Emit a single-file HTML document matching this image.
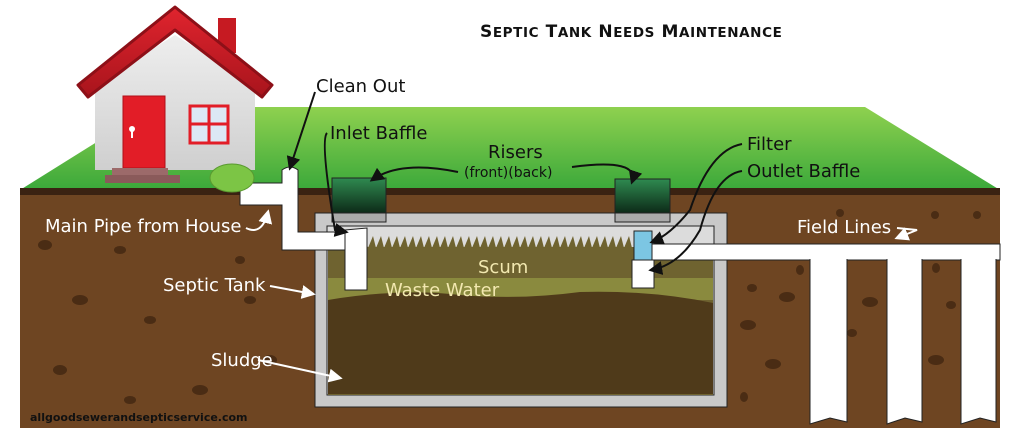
<!DOCTYPE html>
<html><head><style>
html,body{margin:0;padding:0;background:#fff;width:1024px;height:439px;overflow:hidden}
svg{display:block}
text{font-family:"DejaVu Sans","Liberation Sans",sans-serif}
</style></head><body>
<svg width="1024" height="439" viewBox="0 0 1024 439" xmlns="http://www.w3.org/2000/svg">
<defs>
<linearGradient id="g" x1="0" y1="0" x2="0" y2="1"><stop offset="0" stop-color="#8fd14f"/><stop offset="1" stop-color="#3aa83a"/></linearGradient>
<linearGradient id="r" x1="0" y1="0" x2="0" y2="1"><stop offset="0" stop-color="#2f8a50"/><stop offset="1" stop-color="#0d2a18"/></linearGradient>
<linearGradient id="roof" x1="0" y1="0" x2="0" y2="1"><stop offset="0" stop-color="#e0242e"/><stop offset="1" stop-color="#a8141c"/></linearGradient>
<linearGradient id="wall" x1="0" y1="0" x2="0" y2="1"><stop offset="0" stop-color="#eeeeee"/><stop offset="1" stop-color="#cfcfcf"/></linearGradient>
<pattern id="teeth" x="328" y="236" width="8" height="12" patternUnits="userSpaceOnUse"><polygon points="0,12 5,0 8,12" fill="#6f6330"/></pattern>
<marker id="a" viewBox="0 0 10 10" refX="8" refY="5" markerWidth="7" markerHeight="7" orient="auto"><path d="M0,0 L10,5 L0,10 z" fill="#111"/></marker>
<marker id="w" viewBox="0 0 10 10" refX="8" refY="5" markerWidth="7" markerHeight="7" orient="auto"><path d="M0,0 L10,5 L0,10 z" fill="#fff"/></marker>
</defs>
<!-- grass -->
<polygon points="20,190 100,140 160,107 865,107 1000,190" fill="url(#g)"/>
<!-- soil -->
<rect x="20" y="188" width="980" height="240" fill="#6e4522"/>
<rect x="20" y="188" width="980" height="7" fill="#3a2212"/>
<g fill="#4a2c14">
<ellipse cx="45" cy="245" rx="7" ry="5"/><ellipse cx="120" cy="250" rx="6" ry="4"/><ellipse cx="80" cy="300" rx="8" ry="5"/><ellipse cx="150" cy="320" rx="6" ry="4"/><ellipse cx="60" cy="370" rx="7" ry="5"/><ellipse cx="200" cy="390" rx="8" ry="5"/><ellipse cx="250" cy="300" rx="6" ry="4"/><ellipse cx="270" cy="360" rx="7" ry="5"/><ellipse cx="130" cy="400" rx="6" ry="4"/><ellipse cx="240" cy="260" rx="5" ry="4"/>
<ellipse cx="752" cy="288" rx="5" ry="4"/><ellipse cx="787" cy="297" rx="8" ry="5"/><ellipse cx="748" cy="325" rx="8" ry="5"/><ellipse cx="773" cy="364" rx="8" ry="5"/><ellipse cx="744" cy="397" rx="4" ry="5"/><ellipse cx="800" cy="270" rx="4" ry="5"/><ellipse cx="870" cy="302" rx="8" ry="5"/><ellipse cx="852" cy="333" rx="5" ry="4"/><ellipse cx="936" cy="268" rx="4" ry="5"/><ellipse cx="951" cy="305" rx="5" ry="4"/><ellipse cx="936" cy="360" rx="8" ry="5"/><ellipse cx="840" cy="213" rx="4" ry="4"/><ellipse cx="935" cy="215" rx="4" ry="4"/><ellipse cx="977" cy="215" rx="4" ry="4"/>
</g>
<!-- tank -->
<rect x="315" y="213" width="412" height="194" fill="#c9c9c9" stroke="#222" stroke-width="1"/>
<rect x="327" y="226" width="387" height="169" fill="#dcdcdc" stroke="#222" stroke-width="1"/>
<rect x="328" y="236" width="304" height="12" fill="url(#teeth)"/>
<rect x="328" y="247" width="385" height="148" fill="#6f6330"/>
<rect x="632" y="227" width="81" height="20" fill="#dcdcdc"/>
<rect x="328" y="278" width="385" height="22" fill="#8a8a3e"/>
<path d="M328,300 Q400,288 460,295 Q520,300 580,292 Q650,290 713,303 L713,394 L328,394z" fill="#4f3a1a"/>
<!-- risers -->
<rect x="332" y="213" width="54" height="9" fill="#aaa" stroke="#222"/>
<rect x="332" y="178" width="54" height="35" fill="url(#r)" stroke="#222"/>
<rect x="615" y="213" width="55" height="9" fill="#aaa" stroke="#222"/>
<rect x="615" y="179" width="55" height="34" fill="url(#r)" stroke="#222"/>
<!-- inlet pipes -->
<g fill="#fff" stroke="#222" stroke-width="1">
<path d="M240,183 L282,183 L282,170 Q290,164 298,170 L298,232 L345,232 L345,250 L282,250 L282,205 L240,205 z"/>
<path d="M345,230 L367,228 L367,290 L345,290 z"/>
<rect x="652" y="244" width="348" height="16"/>
<rect x="632" y="260" width="22" height="28"/>
<rect x="634" y="231" width="18" height="29" fill="#7cc6e3"/>
<path d="M810,258 L847,258 L847,422 L830,418 L810,424 z"/>
<path d="M887,258 L922,258 L922,422 L905,418 L887,424 z"/>
<path d="M961,258 L996,258 L996,422 L980,418 L961,424 z"/>
</g>
<rect x="653" y="245" width="346" height="14" fill="#fff"/>
<!-- house -->
<rect x="218" y="18" width="18" height="35" fill="#c61a22"/>
<polygon points="95,85 175,35 255,85 255,170 95,170" fill="url(#wall)"/>
<path d="M78,85 L175,7 L272,85 L262,97 L175,30 L88,97 z" fill="url(#roof)" stroke="#8d1018" stroke-width="3" stroke-linejoin="round"/>
<rect x="123" y="96" width="42" height="72" fill="#e21d27" stroke="#b01018"/>
<circle cx="132" cy="129" r="3" fill="#fff"/><rect x="131" y="129" width="2" height="9" fill="#fff"/>
<rect x="190" y="106" width="38" height="37" fill="#dce8f5" stroke="#e21d27" stroke-width="3"/>
<line x1="209" y1="106" x2="209" y2="143" stroke="#e21d27" stroke-width="3"/><line x1="190" y1="124" x2="228" y2="124" stroke="#e21d27" stroke-width="3"/>
<rect x="112" y="168" width="56" height="7" fill="#9c6a6a"/><rect x="105" y="175" width="75" height="8" fill="#8a5a5a"/>
<ellipse cx="232" cy="178" rx="22" ry="14" fill="#7cc545" stroke="#5a9a30"/>
<!-- title -->
<text x="480" y="37" font-size="17" font-weight="bold" fill="#111" letter-spacing="0.6">S<tspan font-size="13.5">EPTIC</tspan> T<tspan font-size="13.5">ANK</tspan> N<tspan font-size="13.5">EEDS</tspan> M<tspan font-size="13.5">AINTENANCE</tspan></text>
<!-- labels -->
<g font-size="18" fill="#111">
<text x="316" y="92">Clean Out</text>
<text x="330" y="139">Inlet Baffle</text>
<text x="488" y="158">Risers</text>
<text x="464" y="177" font-size="14">(front)(back)</text>
<text x="747" y="150">Filter</text>
<text x="747" y="177">Outlet Baffle</text>
</g>
<g font-size="18" fill="#fff">
<text x="45" y="232">Main Pipe from House</text>
<text x="163" y="291">Septic Tank</text>
<text x="211" y="366">Sludge</text>
<text x="797" y="233">Field Lines</text>
</g>
<g font-size="18" fill="#f2e8b0">
<text x="478" y="273">Scum</text>
<text x="385" y="296">Waste Water</text>
</g>
<text x="30" y="421" font-size="11" font-weight="bold" fill="#111">allgoodsewerandsepticservice.com</text>
<!-- arrows -->
<g fill="none" stroke="#111" stroke-width="2">
<path d="M315,92 L290,168" marker-end="url(#a)"/>
<path d="M327,133 Q320,140 335,230 L346,232" marker-end="url(#a)"/>
<path d="M458,172 Q400,160 372,180" marker-end="url(#a)"/>
<path d="M572,167 Q640,158 632,182" marker-end="url(#a)"/>
<path d="M742,144 Q710,150 690,210 Q670,235 652,242" marker-end="url(#a)"/>
<path d="M742,171 Q715,175 700,230 Q680,265 651,270" marker-end="url(#a)"/>
</g>
<g fill="none" stroke="#fff" stroke-width="2">
<path d="M246,228 Q262,236 268,212" marker-end="url(#w)"/>
<path d="M270,286 L313,294" marker-end="url(#w)"/>
<path d="M258,360 L340,378" marker-end="url(#w)"/>
<path d="M897,228 L917,230 L897,238" marker-end="url(#w)"/>
</g>
</svg>
</body></html>
